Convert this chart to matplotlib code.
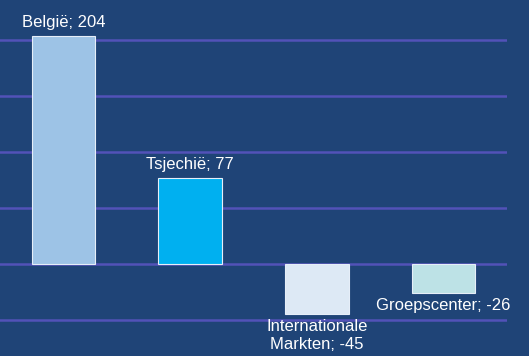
import matplotlib.pyplot as plt
import numpy as np

# data
categories = ["België", "Tsjechië", "Internationale\nMarkten", "Groepscenter"]
values = [204, 77, -45, -26]
bar_colors = ["#9dc3e6", "#00b0f0", "#dde9f5", "#bde2e6"]
grid_levels = [-50, 0, 50, 100, 150, 200]

bg = "#1f4477"

fig = plt.figure(figsize=(5.29, 3.56), dpi=100)
fig.patch.set_facecolor(bg)
ax = fig.add_axes([0, 0, 507 / 529, 1])
ax.set_facecolor(bg)

x = np.arange(len(categories))

# gridlines first so bars sit on top
for g in grid_levels:
  ax.axhline(g, color="#5252b8", linewidth=1.8, zorder=1)

bars = ax.bar(x, values, width=0.5, color=bar_colors, edgecolor="#e6eef8",
              linewidth=0.8, zorder=2)

for i in range(len(categories)):
  label = "{}; {}".format(categories[i], values[i])
  if values[i] >= 0:
    ax.text(x[i], values[i] + 5, label, ha="center", va="bottom",
            color="white", fontsize=12, family="Liberation Sans", zorder=3)
  else:
    ax.text(x[i], values[i] - 4, label, ha="center", va="top",
            color="white", fontsize=12, family="Liberation Sans",
            linespacing=1.25, zorder=3)

ax.set_xlim(-0.5, 3.5)
ax.set_ylim(-82.1, 235.7)
ax.axis("off")

fig.savefig("out.png", dpi=100, facecolor=bg)
